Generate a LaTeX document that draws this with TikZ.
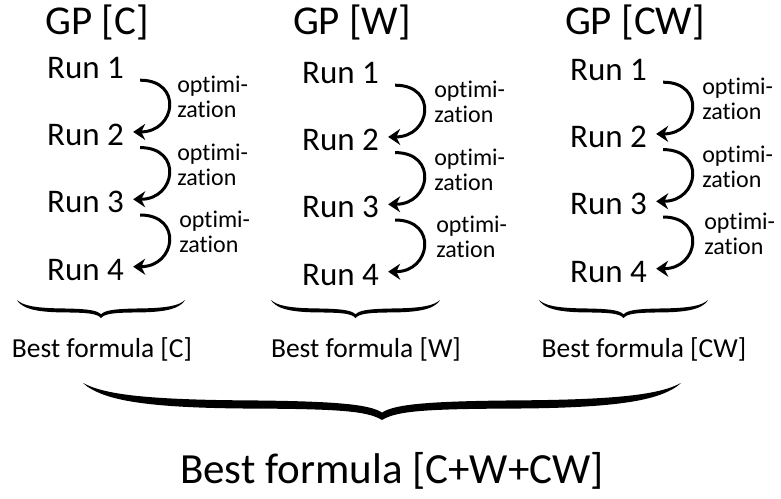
\documentclass[tikz,border=0pt]{standalone}
\usepackage{fontspec}
\setmainfont{Carlito}[Ligatures=NoCommon]
\usetikzlibrary{arrows.meta, positioning}

\tikzset{
  callibrace/.pic={
    \fill (-1,0) .. controls (-0.93,0.3) and (-0.8,0.45) .. (-0.45,0.47)
      .. controls (-0.15,0.49) and (-0.04,0.58) .. (0,0.8)
      .. controls (0.04,0.58) and (0.15,0.49) .. (0.45,0.47)
      .. controls (0.8,0.45) and (0.93,0.3) .. (1,0)
      -- (0.985,0.1)
      .. controls (0.92,0.45) and (0.8,0.67) .. (0.45,0.69)
      .. controls (0.15,0.7) and (0.05,0.75) .. (0,1)
      .. controls (-0.05,0.75) and (-0.15,0.7) .. (-0.45,0.69)
      .. controls (-0.8,0.67) and (-0.92,0.45) .. (-0.985,0.1) -- cycle;
  }
}

\begin{document}
\begin{tikzpicture}[x=1pt, y=-1pt, node distance=42pt,
  gptitle/.style={anchor=base, inner sep=0pt, font=\fontsize{41}{41}\selectfont},
  runnode/.style={inner sep=2pt, text height=21pt, text depth=0pt, font=\fontsize{33}{33}\selectfont},
  optlabel/.style={inner sep=0pt, align=left, font=\fontsize{24}{25}\selectfont},
  optarrow/.style={line width=3pt, -{Stealth[length=12pt, width=16pt]}, out=0, in=0, looseness=2.1},
  bestsmall/.style={anchor=base, inner sep=0pt, font=\fontsize{27.5}{27.5}\selectfont},
  bestbig/.style={anchor=base, inner sep=0pt, font=\fontsize{43}{43}\selectfont}]
  \useasboundingbox (0,0) rectangle (781,498);

  % column C
  \node[gptitle] (gpc) at (97,34) {GP [C]};
  \node[runnode, anchor=base west] (r11) at (45,78) {Run 1};
  \node[runnode, below=of r11.south west, anchor=north west] (r12) {Run 2};
  \node[runnode, below=of r12.south west, anchor=north west] (r13) {Run 3};
  \node[runnode, below=of r13.south west, anchor=north west] (r14) {Run 4};
  \draw[optarrow] ([xshift=14pt]r11.south east) to node[optlabel, right=7pt, yshift=9pt] {optimi-\\zation} ([xshift=7pt, yshift=3pt]r12.east);
  \draw[optarrow] ([xshift=14pt]r12.south east) to node[optlabel, right=7pt, yshift=9pt] {optimi-\\zation} ([xshift=7pt, yshift=3pt]r13.east);
  \draw[optarrow] ([xshift=14pt]r13.south east) to node[optlabel, right=9pt, yshift=9pt] {optimi-\\zation} ([xshift=7pt, yshift=3pt]r14.east);

  % column W
  \node[gptitle] (gpw) at (352,34) {GP [W]};
  \node[runnode, anchor=base west] (r21) at (300,83) {Run 1};
  \node[runnode, below=of r21.south west, anchor=north west] (r22) {Run 2};
  \node[runnode, below=of r22.south west, anchor=north west] (r23) {Run 3};
  \node[runnode, below=of r23.south west, anchor=north west] (r24) {Run 4};
  \draw[optarrow] ([xshift=14pt]r21.south east) to node[optlabel, right=9pt, yshift=9pt] {optimi-\\zation} ([xshift=7pt, yshift=3pt]r22.east);
  \draw[optarrow] ([xshift=14pt]r22.south east) to node[optlabel, right=9pt, yshift=9pt] {optimi-\\zation} ([xshift=7pt, yshift=3pt]r23.east);
  \draw[optarrow] ([xshift=14pt]r23.south east) to node[optlabel, right=11pt, yshift=9pt] {optimi-\\zation} ([xshift=7pt, yshift=3pt]r24.east);

  % column CW
  \node[gptitle] (gpcw) at (635,34) {GP [CW]};
  \node[runnode, anchor=base west] (r31) at (568,80) {Run 1};
  \node[runnode, below=of r31.south west, anchor=north west] (r32) {Run 2};
  \node[runnode, below=of r32.south west, anchor=north west] (r33) {Run 3};
  \node[runnode, below=of r33.south west, anchor=north west] (r34) {Run 4};
  \draw[optarrow] ([xshift=14pt]r31.south east) to node[optlabel, right=9pt, yshift=9pt] {optimi-\\zation} ([xshift=7pt, yshift=3pt]r32.east);
  \draw[optarrow] ([xshift=14pt]r32.south east) to node[optlabel, right=9pt, yshift=9pt] {optimi-\\zation} ([xshift=7pt, yshift=3pt]r33.east);
  \draw[optarrow] ([xshift=14pt]r33.south east) to node[optlabel, right=11pt, yshift=9pt] {optimi-\\zation} ([xshift=7pt, yshift=3pt]r34.east);

  % braces and results
  \coordinate (c1) at (101,300);
  \coordinate (c2) at (355.5,300);
  \coordinate (c3) at (623.5,300);
  \pic[xscale=84, yscale=18] at (c1) {callibrace};
  \pic[xscale=84.5, yscale=18] at (c2) {callibrace};
  \pic[xscale=84.5, yscale=18] at (c3) {callibrace};
  \node[bestsmall] (bestc) at (102,357) {Best formula [C]};
  \node[bestsmall] (bestw) at (366,357) {Best formula [W]};
  \node[bestsmall] (bestcw) at (644,357) {Best formula [CW]};

  \coordinate (call) at (382,383);
  \pic[xscale=299, yscale=37] at (call) {callibrace};
  \node[bestbig] (bestall) at (392,483) {Best formula [C+W+CW]};
\end{tikzpicture}
\end{document}
